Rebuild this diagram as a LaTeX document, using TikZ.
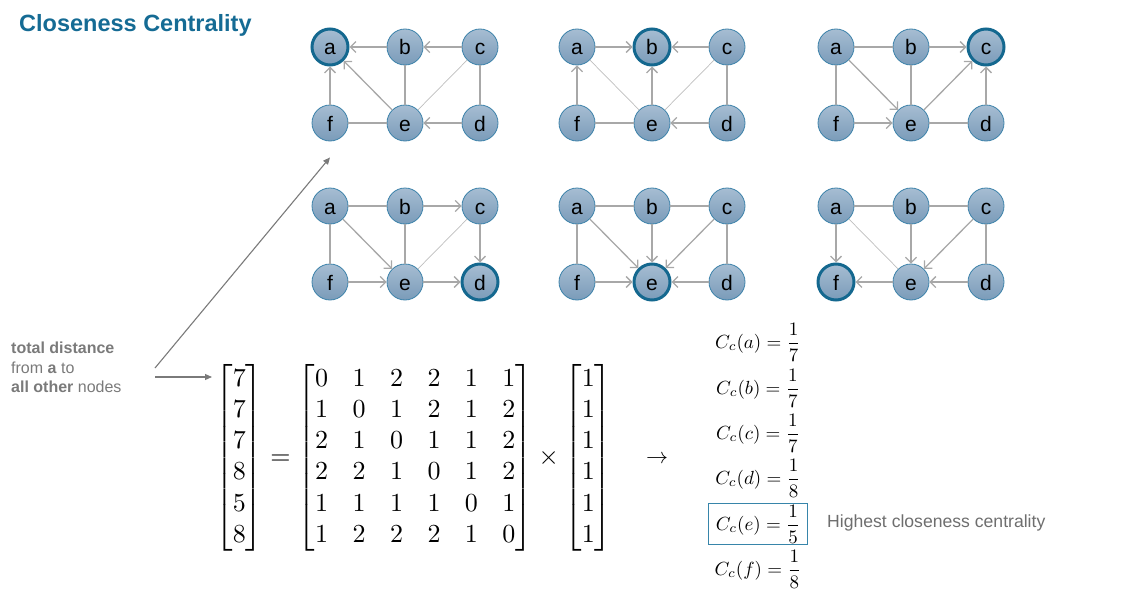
\documentclass[tikz,border=0pt]{standalone}
\usepackage{amsmath}
\usepackage{fontspec}
\setsansfont{Liberation Sans}
\usetikzlibrary{arrows.meta}

\definecolor{titleblue}{RGB}{21,107,148}
\definecolor{vertextop}{RGB}{166,189,210}
\definecolor{vertexbottom}{RGB}{122,155,185}
\definecolor{vertexline}{RGB}{60,130,170}
\definecolor{rootline}{RGB}{20,104,143}
\definecolor{edgegray}{RGB}{168,168,168}
\definecolor{notegray}{RGB}{122,122,122}
\definecolor{boxblue}{RGB}{55,133,170}

\begin{document}
\begin{tikzpicture}[x=1pt,y=-1pt,
  vertex/.style={circle, minimum size=36pt, inner sep=0pt, draw=vertexline, line width=0.8pt,
    top color=vertextop, bottom color=vertexbottom, text height=16pt, text depth=0pt,
    font=\sffamily\fontsize{21}{21}\selectfont},
  root/.style={draw=rootline, line width=3pt},
  arc/.style={draw=edgegray, line width=1.3pt, -{Straight Barb[length=5.5pt,width=11pt]}},
  link/.style={draw=edgegray, line width=1.1pt},
  chord/.style={draw=edgegray!75, line width=0.7pt},
  pointer/.style={draw=notegray, line width=1.1pt, -{Triangle[length=7pt,width=6pt]}},
  formula/.style={scale=1.9, inner xsep=4pt, inner ysep=0.6pt}]
  \useasboundingbox (0,0) rectangle (1129,594);

  % Title
  \node[anchor=west, inner sep=0pt, text=titleblue, font=\sffamily\bfseries\fontsize{23.5}{28}\selectfont] (title) at (19,25) {Closeness Centrality};

  % Six copies of the graph, one per root
  \foreach \g/\x/\y/\r in {1/330/47/a, 2/577/47/b, 3/836/47/c, 4/330/206/d, 5/577/206/e, 6/836/206/f} {
    \tikzset{ring a/.style={}, ring b/.style={}, ring c/.style={}, ring d/.style={}, ring e/.style={}, ring f/.style={}, ring \r/.style={root}}
    \foreach \n/\dx/\dy in {a/0/0, b/75/0, c/150/0, f/0/76, e/75/76, d/150/76} {
      \node[vertex, ring \n] (\n\g) at ({\x+\dx},{\y+\dy}) {\n};
    }
  }

  % Root a
  \draw[arc] (b1) -- (a1);
  \draw[arc] (c1) -- (b1);
  \draw[arc] (f1) -- (a1);
  \draw[arc] (e1) -- (a1);
  \draw[arc] (d1) -- (e1);
  \draw[link] (b1) -- (e1);
  \draw[link] (c1) -- (d1);
  \draw[link] (f1) -- (e1);
  \draw[chord] (c1) -- (e1);

  % Root b
  \draw[arc] (a2) -- (b2);
  \draw[arc] (c2) -- (b2);
  \draw[arc] (f2) -- (a2);
  \draw[arc] (e2) -- (b2);
  \draw[arc] (d2) -- (e2);
  \draw[link] (c2) -- (d2);
  \draw[link] (f2) -- (e2);
  \draw[chord] (a2) -- (e2);
  \draw[chord] (c2) -- (e2);

  % Root c
  \draw[arc] (b3) -- (c3);
  \draw[arc] (d3) -- (c3);
  \draw[arc] (e3) -- (c3);
  \draw[arc] (a3) -- (e3);
  \draw[arc] (f3) -- (e3);
  \draw[link] (a3) -- (b3);
  \draw[link] (a3) -- (f3);
  \draw[link] (b3) -- (e3);
  \draw[link] (e3) -- (d3);

  % Root d
  \draw[arc] (b4) -- (c4);
  \draw[arc] (c4) -- (d4);
  \draw[arc] (a4) -- (e4);
  \draw[arc] (f4) -- (e4);
  \draw[arc] (e4) -- (d4);
  \draw[link] (a4) -- (b4);
  \draw[link] (a4) -- (f4);
  \draw[link] (b4) -- (e4);
  \draw[chord] (c4) -- (e4);

  % Root e
  \draw[arc] (a5) -- (e5);
  \draw[arc] (b5) -- (e5);
  \draw[arc] (c5) -- (e5);
  \draw[arc] (f5) -- (e5);
  \draw[arc] (d5) -- (e5);
  \draw[link] (a5) -- (b5);
  \draw[link] (b5) -- (c5);
  \draw[link] (a5) -- (f5);
  \draw[link] (c5) -- (d5);

  % Root f
  \draw[arc] (a6) -- (f6);
  \draw[arc] (b6) -- (e6);
  \draw[arc] (c6) -- (e6);
  \draw[arc] (e6) -- (f6);
  \draw[arc] (d6) -- (e6);
  \draw[link] (a6) -- (b6);
  \draw[link] (b6) -- (c6);
  \draw[link] (c6) -- (d6);
  \draw[chord] (a6) -- (e6);

  % Note and pointers
  \node[anchor=north west, align=left, inner sep=0pt, text=notegray, font=\sffamily\fontsize{16}{19.5}\selectfont] (note) at (11,342)
    {\textbf{total distance}\\from \textbf{a} to\\\textbf{all other} nodes};
  \coordinate (from1) at (155,368);
  \coordinate (from2) at (155,377);
  \coordinate (to2) at (212,377);
  \draw[pointer] (from1) -- ([yshift=-16pt]f1.south);
  \draw[pointer] (from2) -- (to2);

  % Distance sums
  \node[scale=2.6, inner sep=0pt, anchor=west] (dist) at (215,458)
    {\setlength{\arraycolsep}{4.7pt}$\begin{bmatrix}7\\7\\7\\8\\5\\8\end{bmatrix} = \begin{bmatrix}0&1&2&2&1&1\\1&0&1&2&1&2\\2&1&0&1&1&2\\2&2&1&0&1&2\\1&1&1&1&0&1\\1&2&2&2&1&0\end{bmatrix} \times \begin{bmatrix}1\\1\\1\\1\\1\\1\end{bmatrix}$};
  \node[scale=2.2] (then) at (657,459) {$\rightarrow$};

  % Closeness values
  \foreach \n/\d/\y in {a/7/342, b/7/388, c/7/433, d/8/478, f/8/569} {
    \node[formula] (cc\n) at (758,\y) {$C_c(\n) = \dfrac{1}{\d}$};
  }
  \node[formula, draw=boxblue, line width=0.8pt] (cce) at (758,524) {$C_c(e) = \dfrac{1}{5}$};
  \node[anchor=west, inner sep=0pt, text=notegray!90!black, font=\sffamily\fontsize{17.6}{20}\selectfont] (best) at (827,523) {Highest closeness centrality};
\end{tikzpicture}
\end{document}
